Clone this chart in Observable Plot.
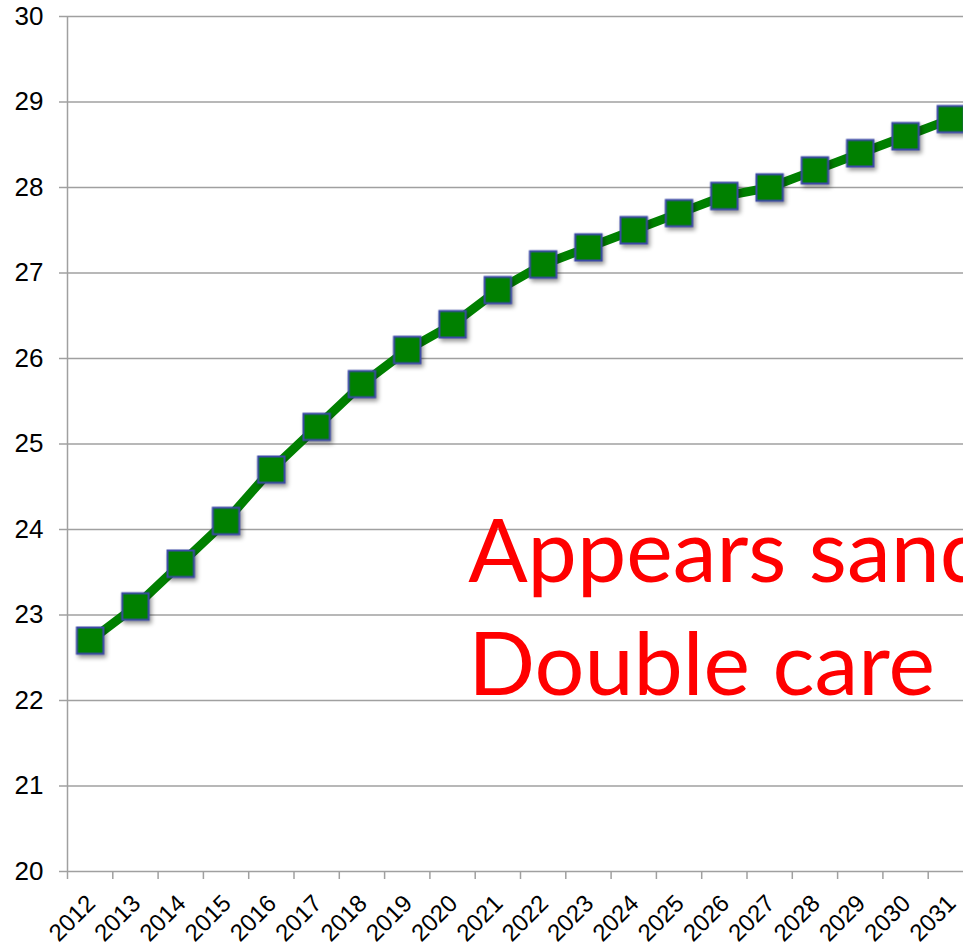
<!DOCTYPE html>
<html><head><meta charset="utf-8">
<script src="https://cdn.jsdelivr.net/npm/d3@7"></script>
<script src="https://cdn.jsdelivr.net/npm/@observablehq/plot@0.6"></script>
<style>
html,body{margin:0;padding:0;background:#fff;overflow:hidden;width:963px;height:949px}
#chart svg{display:block;overflow:visible;max-width:none !important}
g[aria-label="dot"]{filter:drop-shadow(2px 3px 2px rgba(0,0,0,0.4))}
</style></head><body><div id="chart"></div>
<script>
const years = ["2012","2013","2014","2015","2016","2017","2018","2019","2020","2021","2022","2023","2024","2025","2026","2027","2028","2029","2030","2031"];
const values = [22.7,23.1,23.6,24.1,24.7,25.2,25.7,26.1,26.4,26.8,27.1,27.3,27.5,27.7,27.9,28.0,28.2,28.4,28.6,28.8];
const yTicks = [20,21,22,23,24,25,26,27,28,29,30];
const annotationLines = ["Appears sandwiched", "Double care"];
const annotationStartYear = "2021";
const annotationValue = 23.15;

const data = years.map((yr, i) => ({pos: i + 0.5, year: yr, value: values[i]}));
const boundaries = d3.range(0, years.length + 1);
const centers = years.map((_, i) => i + 0.5);
const gray = "#a0a0a0";

const chart = Plot.plot({
  width: 973,
  height: 949,
  marginLeft: 67,
  marginRight: 0,
  marginTop: 16,
  marginBottom: 78,
  style: {fontFamily: "'Liberation Sans', Arial, sans-serif", background: "#fff", maxWidth: "none"},
  x: {type: "linear", domain: [0, years.length], axis: null, label: null},
  y: {domain: [20, 30], axis: null, label: null},
  marks: [
    Plot.gridY(yTicks, {stroke: gray, strokeOpacity: 1, strokeWidth: 1.5}),
    Plot.axisY({ticks: yTicks, tickSize: 8, text: null, label: null, stroke: gray, strokeOpacity: 1, strokeWidth: 1.5}),
    Plot.axisY({ticks: yTicks, tickSize: 0, tickPadding: 24, label: null, fontSize: 26, fill: "#000", dy: 0}),
    Plot.ruleX([0], {stroke: gray, strokeWidth: 1.5}),
    Plot.axisX({ticks: boundaries, tickSize: 8, text: null, label: null, stroke: gray, strokeOpacity: 1, strokeWidth: 1.5}),
    Plot.axisX({ticks: centers, tickSize: 0, tickPadding: 28, tickRotate: -45, label: null, fontSize: 24, fill: "#000",
      tickFormat: d => years[Math.floor(d)], dx: 1}),
    Plot.line(data, {x: "pos", y: "value", stroke: "#008000", strokeWidth: 9, strokeLinejoin: "round"}),
    Plot.dot(data, {x: "pos", y: "value", symbol: "square", r: 14.9, fill: "#008000", stroke: "#3b49a6", strokeWidth: 2}),
    Plot.text([annotationLines.join("\n")], {
      x: () => years.indexOf(annotationStartYear), y: () => annotationValue,
      text: d => d, textAnchor: "start", lineAnchor: "middle", lineHeight: 1.28,
      fontSize: 88, fill: "#ff0000", fontFamily: "Lato, 'Open Sans', sans-serif", dx: -7
    })
  ]
});
document.getElementById("chart").append(chart);
</script>
</body></html>
